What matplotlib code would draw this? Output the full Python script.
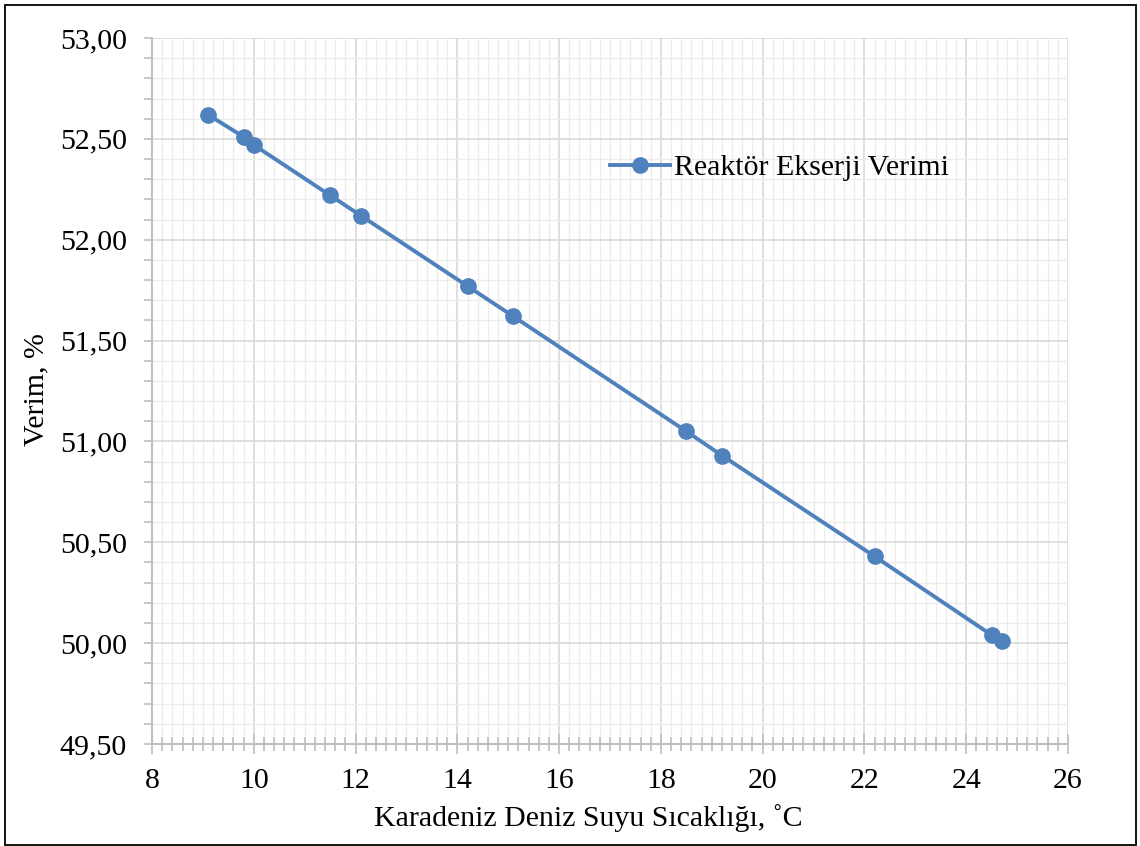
import matplotlib.pyplot as plt
from matplotlib.ticker import MultipleLocator, FuncFormatter
from matplotlib.patches import Rectangle

# Data
sicaklik = [9.1, 9.8, 10.0, 11.5, 12.1, 14.2, 15.1, 18.5, 19.2, 22.2, 24.5, 24.7]
verim = [52.62, 52.51, 52.47, 52.22, 52.12, 51.77, 51.62, 51.05, 50.93, 50.43, 50.04, 50.01]
seri_adi = 'Reaktör Ekserji Verimi'

plt.rcParams['font.family'] = ['Liberation Serif', 'DejaVu Serif']
fs = 21.5

fig = plt.figure(figsize=(11.4, 8.46), dpi=100)
ax = fig.add_axes([152/1140, 1 - 744/846, (1068 - 152)/1140, (744 - 38)/846])

ax.plot(sicaklik, verim, color='#4f81bd', linewidth=2.8, marker='o',
        markersize=11, label=seri_adi, zorder=3)

ax.set_xlim(8, 26)
ax.set_ylim(49.5, 53.0)

ax.xaxis.set_major_locator(MultipleLocator(2))
ax.xaxis.set_minor_locator(MultipleLocator(0.2))
ax.yaxis.set_major_locator(MultipleLocator(0.5))
ax.yaxis.set_minor_locator(MultipleLocator(0.1))
ax.yaxis.set_major_formatter(FuncFormatter(lambda v, p: f'{v:.2f}'.replace('.', ',')))

# Grid
ax.grid(which='major', color='#d9d9d9', linewidth=1.2, zorder=0)
ax.grid(which='minor', color='#ececec', linewidth=1.0, zorder=0)
ax.set_axisbelow(True)

for s in ['top', 'right']:
    ax.spines[s].set_visible(False)
for s in ['left', 'bottom']:
    ax.spines[s].set_color('#bfbfbf')
    ax.spines[s].set_linewidth(1.5)

ax.tick_params(axis='x', which='major', direction='inout', length=14, width=1.2,
               color='#bfbfbf', labelsize=fs, pad=10)
ax.tick_params(axis='x', which='minor', direction='inout', length=10, width=1.2,
               color='#bfbfbf')
ax.tick_params(axis='y', which='both', direction='out', length=6, width=1.2,
               color='#bfbfbf', labelsize=fs, pad=12)
for lab in ax.get_xticklabels() + ax.get_yticklabels():
    lab.set_fontfamily('Liberation Serif')

fig.text(588/1140, 1 - 818/846, 'Karadeniz Deniz Suyu Sıcaklığı, ˚C',
         ha='center', va='center', fontsize=fs)
fig.text(36/1140, 1 - 390/846, 'Verim, %', ha='center', va='center',
         rotation=90, fontsize=fs)

leg = ax.legend(loc='center left', bbox_to_anchor=(610/1140, 1 - 168/846),
                bbox_transform=fig.transFigure, frameon=False, fontsize=fs,
                handlelength=2.0, handletextpad=0.15, borderpad=0, borderaxespad=0)

# Outer frame
fig.patches.append(Rectangle((5/1140, 1/846), 1131/1140, 840/846,
                             transform=fig.transFigure, fill=False,
                             edgecolor='black', linewidth=1.3))

fig.savefig('out.png', dpi=100)
